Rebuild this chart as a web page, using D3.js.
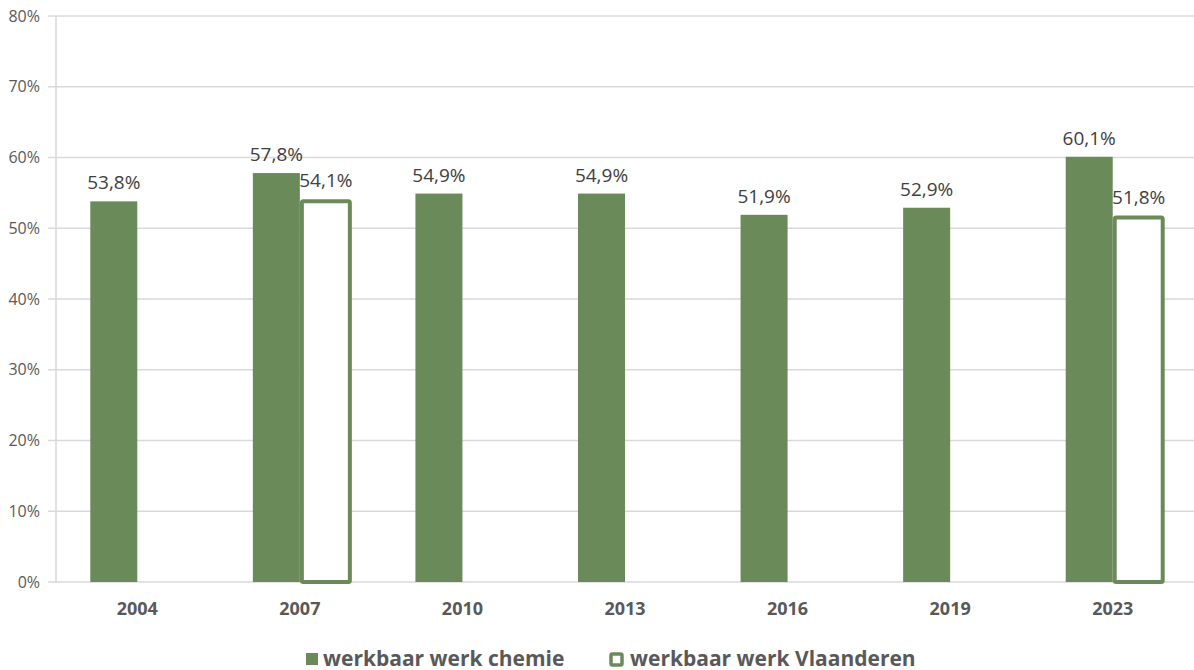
<!DOCTYPE html>
<html lang="en">
<head>
    <meta charset="UTF-8">
    <title>Werkbaar werk</title>
    <script src="https://cdn.jsdelivr.net/npm/d3@7"></script>
    <style>
        body { margin: 0; background: #fff; font-family: "Open Sans", sans-serif; }
        .grid line { stroke: #d9d9d9; stroke-width: 1.5; }
        .yaxis text { fill: #595959; font-size: 16px; }
        .xaxis text { fill: #595959; font-size: 18px; font-weight: bold; }
        .barlabel { fill: #404040; font-size: 19px; text-anchor: middle; }
        .legend text { fill: #595959; font-size: 21px; font-weight: bold; }
    </style>
</head>
<body>
<script>

    var years = ["2004", "2007", "2010", "2013", "2016", "2019", "2023"];
    var chemie = [53.8, 57.8, 54.9, 54.9, 51.9, 52.9, 60.1];
    var vlaanderen = [null, 54.1, null, null, null, null, 51.8];
    var seriesNames = ["werkbaar werk chemie", "werkbaar werk Vlaanderen"];
    var yTicks = [0, 10, 20, 30, 40, 50, 60, 70, 80];

    var green = "#6b8a5a";
    var width = 1194, height = 670;
    var plotLeft = 56, plotRight = 1194, plotTop = 16, plotBottom = 582;

    var svg = d3.select("body").append("svg")
            .attr("width", width)
            .attr("height", height);

    var x0 = d3.scaleBand().domain(years).range([plotLeft, plotRight]).padding(0);
    var groupW = 94;
    var x1 = d3.scaleBand().domain(seriesNames).range([-groupW / 2, groupW / 2]).padding(0);
    var y = d3.scaleLinear().domain([0, 80]).range([plotBottom, plotTop]);

    //gridlines
    svg.append("g").attr("class", "grid")
            .selectAll("line")
            .data(yTicks)
            .enter().append("line")
            .attr("x1", plotLeft - 8).attr("x2", plotRight)
            .attr("y1", function (d) { return y(d); })
            .attr("y2", function (d) { return y(d); });

    svg.append("line")
            .attr("x1", plotLeft).attr("x2", plotLeft)
            .attr("y1", plotTop).attr("y2", plotBottom)
            .attr("stroke", "#d9d9d9").attr("stroke-width", 1.5);

    var yAxis = d3.axisLeft(y).tickValues(yTicks).tickSize(0).tickPadding(16)
            .tickFormat(function (d) { return d + "%"; });
    svg.append("g").attr("class", "yaxis")
            .attr("transform", "translate(" + plotLeft + ",0)")
            .call(yAxis)
            .call(function (g) { g.select(".domain").remove(); });
    svg.selectAll(".yaxis text").style("font-family", "Open Sans");

    var xAxis = d3.axisBottom(x0).tickSize(0).tickPadding(20);
    svg.append("g").attr("class", "xaxis")
            .attr("transform", "translate(0," + plotBottom + ")")
            .call(xAxis)
            .call(function (g) { g.select(".domain").remove(); });
    svg.selectAll(".xaxis text").style("font-family", "Open Sans");

    var center = function (i) { return x0(years[i]) + x0.bandwidth() / 2; };

    //chemie bars
    svg.append("g").selectAll("rect")
            .data(chemie)
            .enter().append("rect")
            .attr("x", function (d, i) { return center(i) + x1(seriesNames[0]); })
            .attr("width", x1.bandwidth())
            .attr("y", function (d) { return y(d); })
            .attr("height", function (d) { return plotBottom - y(d); })
            .attr("fill", green);

    //vlaanderen bars (outlined)
    var vData = vlaanderen.map(function (v, i) { return {v: v, i: i}; })
            .filter(function (d) { return d.v !== null; });
    var sw = 4, outerW = 52;
    svg.append("g").selectAll("rect")
            .data(vData)
            .enter().append("rect")
            .attr("x", function (d) { return center(d.i) + x1(seriesNames[1]) + sw / 2; })
            .attr("width", outerW - sw)
            .attr("y", function (d) { return y(d.v) + sw / 2; })
            .attr("height", function (d) { return plotBottom - y(d.v) - sw / 2; })
            .attr("rx", 1.5)
            .attr("fill", "#fff")
            .attr("stroke", green)
            .attr("stroke-width", sw);

    var fmt = function (v) { return v.toFixed(1).replace(".", ",") + "%"; };

    svg.append("g").selectAll("text")
            .data(chemie)
            .enter().append("text")
            .attr("class", "barlabel")
            .attr("x", function (d, i) { return center(i) + x1(seriesNames[0]) + x1.bandwidth() / 2; })
            .attr("y", function (d) { return y(d) - 12; })
            .text(fmt);

    svg.append("g").selectAll("text")
            .data(vData)
            .enter().append("text")
            .attr("class", "barlabel")
            .attr("x", function (d) { return center(d.i) + x1(seriesNames[1]) + outerW / 2; })
            .attr("y", function (d) { return y(d.v) - 12; })
            .text(function (d) { return fmt(d.v); });

    //legend
    var legend = svg.append("g").attr("class", "legend");
    legend.append("rect")
            .attr("x", 306).attr("y", 653).attr("width", 12).attr("height", 12)
            .attr("fill", green);
    legend.append("text").attr("x", 323).attr("y", 666).text(seriesNames[0]);
    legend.append("rect")
            .attr("x", 611).attr("y", 654).attr("width", 11).attr("height", 11)
            .attr("fill", "#fff").attr("stroke", green).attr("stroke-width", 3.5).attr("rx", 1.5);
    legend.append("text").attr("x", 630).attr("y", 666).text(seriesNames[1]);

</script>
</body>
</html>
